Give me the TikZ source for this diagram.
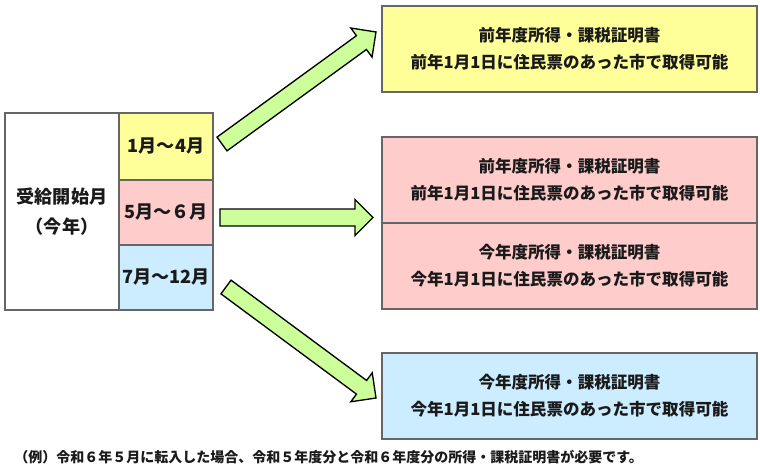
\documentclass[tikz,border=0pt]{standalone}
\usepackage{fontspec}
\setmainfont{Noto Sans CJK JP}
\usetikzlibrary{calc}
\definecolor{cyel}{HTML}{FFFF99}
\definecolor{cpink}{HTML}{FFCCCC}
\definecolor{cblue}{HTML}{CCECFF}
\definecolor{cgreen}{HTML}{CCFF99}
\definecolor{cline}{HTML}{666666}
\definecolor{ctext}{HTML}{1A1A1A}
\newcommand{\blockarrow}[3]{%
  \coordinate (#3hb) at ($(#2)!13.5pt!(#1)$);
  \draw[arrowbox]
    ($(#1)!6.375pt!90:(#2)$) --
    ($(#3hb)!6.375pt!90:(#2)$) --
    ($(#3hb)!13.5pt!90:(#2)$) --
    (#2) --
    ($(#3hb)!13.5pt!-90:(#2)$) --
    ($(#3hb)!6.375pt!-90:(#2)$) --
    ($(#1)!6.375pt!-90:(#2)$) -- cycle;}
\begin{document}
\begin{tikzpicture}[x=0.75pt,y=-0.75pt,
  cell/.style={draw=cline,line width=0.8pt,inner sep=0pt,text=ctext,font=\bfseries\fontsize{13.6pt}{22.5pt}\selectfont,align=center},
  info/.style={draw=cline,line width=0.8pt,inner sep=0pt,text=ctext,minimum width=281.25pt,minimum height=64.5pt,font=\bfseries\fontsize{12.4pt}{20.25pt}\selectfont,align=center},
  arrowbox/.style={draw=black,fill=cgreen,line width=1pt,line join=miter}]
\useasboundingbox (0,0) rectangle (760,471);
\fill[white] (0,0) rectangle (760,471);
% left table
\node[cell,minimum width=85.5pt,minimum height=147.75pt] (start) at (62,211.5) {受給開始月\\（今年）};
\node[cell,fill=cyel,minimum width=70.5pt,minimum height=50.25pt] (m1) at (166,146.5) {1月～4月};
\node[cell,fill=cpink,minimum width=70.5pt,minimum height=48.75pt] (m5) at (166,212.5) {5月～６月};
\node[cell,fill=cblue,minimum width=70.5pt,minimum height=48.75pt] (m7) at (166,277.5) {7月～12月};
% right boxes
\node[info,fill=cyel] (prevA) at (569.5,49) {前年度所得・課税証明書\\前年1月1日に住民票のあった市で取得可能};
\node[info,fill=cpink] (prevB) at (569.5,180) {前年度所得・課税証明書\\前年1月1日に住民票のあった市で取得可能};
\node[info,fill=cpink] (currB) at (569.5,266) {今年度所得・課税証明書\\今年1月1日に住民票のあった市で取得可能};
\node[info,fill=cblue] (currC) at (569.5,396) {今年度所得・課税証明書\\今年1月1日に住民票のあった市で取得可能};
% arrows
\coordinate (t1) at (222,144);
\coordinate (h1) at (376,32);
\coordinate (t2) at (220,217.5);
\coordinate (h2) at (373,217.5);
\coordinate (t3) at (226,287);
\coordinate (h3) at (376,398);
\blockarrow{t1}{h1}{a1}
\blockarrow{t2}{h2}{a2}
\blockarrow{t3}{h3}{a3}
% footer
\node[anchor=west,inner sep=0pt,text=ctext,font=\bfseries\fontsize{10.5pt}{12pt}\selectfont] (note) at (14,457) {（例）令和６年５月に転入した場合、令和５年度分と令和６年度分の所得・課税証明書が必要です。};
\end{tikzpicture}
\end{document}
